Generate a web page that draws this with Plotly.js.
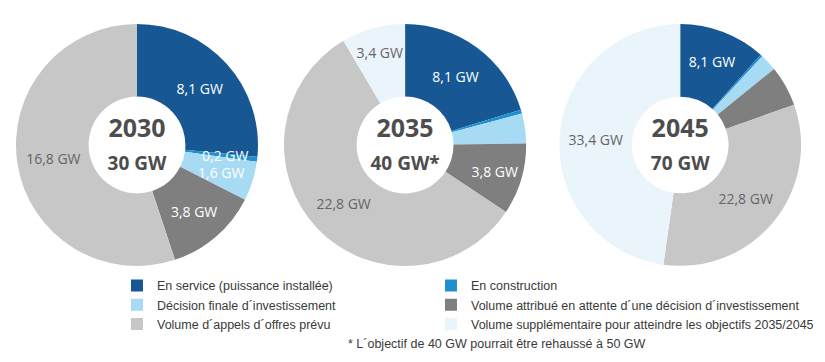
<!DOCTYPE html>
<html>
<head>
<meta charset="utf-8">
<script src="https://cdn.plot.ly/plotly-3.0.1.min.js"></script>
<style>html,body{margin:0;padding:0;background:#fff;}#chart{width:825px;height:362px;}</style>
</head>
<body>
<div id="chart"></div>
<script>
const categories = [
  'En service (puissance installée)',
  'En construction',
  'Décision finale d´investissement',
  'Volume attribué en attente d´une décision d´investissement',
  'Volume d´appels d´offres prévu',
  'Volume supplémentaire pour atteindre les objectifs 2035/2045'
];
const years = ['2030', '2035', '2045'];
const targets = ['30 GW', '40 GW*', '70 GW'];
const values2030 = [8.1, 0.2, 1.6, 3.8, 16.8, 0];
const values2035 = [8.1, 0.2, 1.6, 3.8, 22.8, 3.4];
const values2045 = [8.1, 0.2, 1.6, 3.8, 22.8, 33.4];
// which slices carry an in-slice label
const labeled2030 = [true, false, false, true, true, false];
const labeled2035 = [true, false, false, true, true, true];
const labeled2045 = [true, false, false, false, true, true];
// small 2030 slices labelled beside the edge
const edgeLabels2030 = [1, 2];
// legend columns (category indices)
const legendLeft = [0, 2, 4];
const legendRight = [1, 3, 5];
const footnote = '* L´objectif de 40 GW pourrait être rehaussé à 50 GW';

const colors = ['#175894', '#1f8fcf', '#a7dbf3', '#7f7f7f', '#c7c7c7', '#eaf4fb'];
const textColors = ['#ffffff', '#ffffff', '#ffffff', '#ffffff', '#666666', '#666666'];
const legendFont = { family: 'Liberation Sans Narrow, Liberation Sans, sans-serif', size: 12.5, color: '#3a3a3a' };

function fmt(v) { return v.toFixed(1).replace('.', ',') + ' GW'; }

const allValues = [values2030, values2035, values2045];
const allLabeled = [labeled2030, labeled2035, labeled2045];
const domainsX = [[0.0194, 0.3127], [0.344, 0.638], [0.678, 0.971]];
const domainY = [0.265, 0.934];

const traces = years.map((yr, i) => ({
  type: 'pie',
  name: yr,
  labels: categories,
  values: allValues[i],
  text: allValues[i].map((v, j) => allLabeled[i][j] ? fmt(v) : ''),
  textinfo: 'text',
  textposition: 'inside',
  insidetextorientation: 'horizontal',
  insidetextfont: { family: 'Open Sans', size: 14, color: textColors },
  sort: false,
  direction: 'clockwise',
  rotation: 0,
  hole: 0.4,
  marker: { colors: colors, line: { width: 0 } },
  domain: { x: domainsX[i], y: domainY },
  title: {
    text: '<b>' + yr + '</b><br><b><span style="font-size:19px">' + targets[i] + '</span></b>',
    position: 'middle center',
    font: { family: 'Open Sans', size: 25, color: '#4d4d4d' }
  },
  hoverinfo: 'label+value',
  showlegend: false
}));

// legend-only pie traces (one per legend column), drawn with no visible area
[[legendLeft, 'legend'], [legendRight, 'legend2']].forEach(([idx, lg]) => {
  traces.push({
    type: 'pie',
    labels: idx.map(k => categories[k]),
    values: idx.map(() => 1),
    marker: { colors: idx.map(k => colors[k]), line: { width: 0 } },
    sort: false,
    textinfo: 'none',
    hoverinfo: 'skip',
    domain: { x: [0, 0.0001], y: [0, 0.0001] },
    legend: lg,
    showlegend: true
  });
});

const annotations = [
  { text: fmt(values2030[edgeLabels2030[0]]), x: 0.2727, y: 0.5718 },
  { text: fmt(values2030[edgeLabels2030[1]]), x: 0.2679, y: 0.5221 }
].map(a => Object.assign(a, {
  xref: 'paper', yref: 'paper', xanchor: 'center', yanchor: 'middle', showarrow: false,
  font: { family: 'Open Sans', size: 14, color: '#ffffff' }
}));
annotations.push({
  text: footnote, xref: 'paper', yref: 'paper', x: 0.6025, y: 0.05,
  xanchor: 'center', yanchor: 'middle',
  showarrow: false, font: { family: legendFont.family, size: 12.5, color: '#3a3a3a' }
});

const layout = {
  width: 825, height: 362,
  margin: { l: 0, r: 0, t: 0, b: 0, autoexpand: false },
  paper_bgcolor: '#ffffff',
  showlegend: true,
  legend: {
    orientation: 'v', x: 0.1418, y: 0.252, xanchor: 'left', yanchor: 'top',
    font: legendFont, bgcolor: 'rgba(0,0,0,0)'
  },
  legend2: {
    orientation: 'v', x: 0.5224, y: 0.252, xanchor: 'left', yanchor: 'top',
    font: legendFont, bgcolor: 'rgba(0,0,0,0)'
  },
  annotations: annotations
};

Plotly.newPlot('chart', traces, layout, { displayModeBar: false, staticPlot: true });
</script>
</body>
</html>
